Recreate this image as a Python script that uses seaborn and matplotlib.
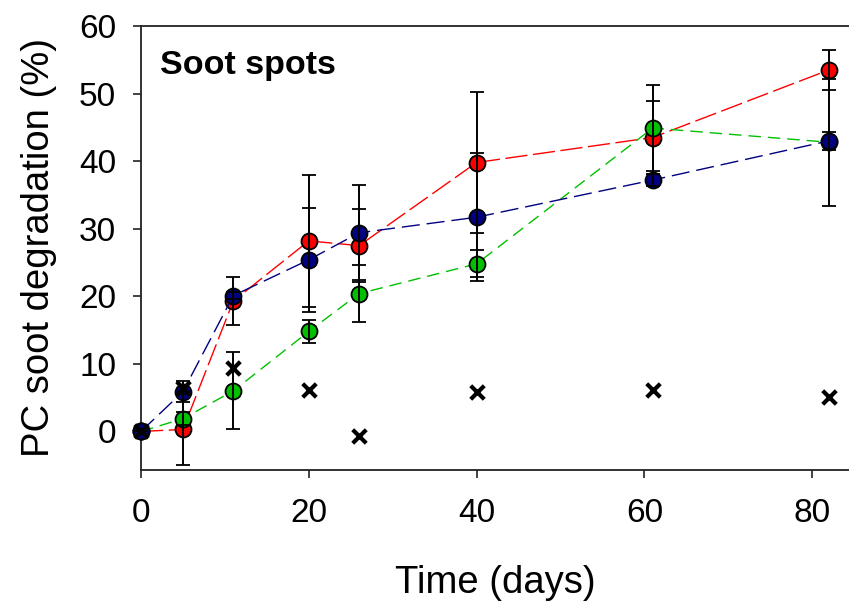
import pandas as pd
import numpy as np
import matplotlib
matplotlib.use('Agg')
import matplotlib.pyplot as plt
import seaborn as sns

# Dane
days = [0, 5, 11, 20, 26, 40, 61, 82]

red_vals = [0, 0.3, 19.3, 28.2, 27.5, 39.8, 43.5, 53.5]
red_err = [0, 5.2, 3.5, 9.8, 5.4, 10.4, 5.4, 2.9]

green_vals = [0, 1.9, 6.0, 14.8, 20.4, 24.8, 44.9, 42.8]
green_err = [0, 1.0, 5.7, 1.7, 4.2, 2.0, 6.3, 9.4]

blue_vals = [0, 5.9, 20.1, 25.4, 29.4, 31.7, 37.2, 43.0]
blue_err = [0, 1.6, 0.5, 7.7, 7.0, 9.5, 0.9, 1.3]

control_vals = [0, 6.4, 9.4, 6.2, -0.6, 5.9, 6.2, 5.1]

series_names = ['red', 'green', 'blue']
colors = {'red': '#ff0000', 'green': '#00c000', 'blue': '#000080'}
dash_styles = {'red': (16, 4), 'green': (9, 5), 'blue': (13, 5)}

df = pd.DataFrame({
    'day': days * 3,
    'deg': red_vals + green_vals + blue_vals,
    'err': red_err + green_err + blue_err,
    'series': ['red'] * 8 + ['green'] * 8 + ['blue'] * 8,
})
df_ctrl = pd.DataFrame({'day': days, 'deg': control_vals})

sns.set_style('ticks')
plt.rcParams['font.family'] = ['Liberation Sans', 'DejaVu Sans']
plt.rcParams['text.color'] = 'black'
plt.rcParams['axes.labelcolor'] = 'black'

fig = plt.figure(figsize=(8.49, 6.02), dpi=100)
ax = fig.add_axes([0.1661, 0.2193, 0.8339, 0.7375])

sns.lineplot(data=df, x='day', y='deg', hue='series', style='series',
             hue_order=series_names, style_order=series_names,
             palette=colors, dashes=dash_styles,
             markers={'red': 'o', 'green': 'o', 'blue': 'o'},
             markersize=11.5, markeredgecolor='black', markeredgewidth=1.3,
             linewidth=1, errorbar=None, sort=False, legend=False,
             clip_on=False, ax=ax, zorder=3)

# słupki błędów na wierzchu
for name in series_names:
    sub = df[df['series'] == name]
    ax.errorbar(sub['day'], sub['deg'], yerr=sub['err'], fmt='none',
                ecolor='black', elinewidth=1.4, capsize=5, capthick=1.3,
                zorder=4, clip_on=False)

sns.scatterplot(data=df_ctrl, x='day', y='deg', marker='x', color='black',
                s=95, linewidth=3, clip_on=False, zorder=6, ax=ax)

ax.set_xlim(0, 84.4)
ax.set_ylim(-5.7, 60)
ax.set_xticks([0, 20, 40, 60, 80])
ax.set_yticks([0, 10, 20, 30, 40, 50, 60])

for side in ['left', 'bottom', 'top']:
    ax.spines[side].set_linewidth(1.3)
    ax.spines[side].set_color('#222222')
ax.spines['right'].set_visible(False)

ax.tick_params(axis='both', direction='out', length=6, width=1.2, labelsize=24,
               colors='#222222', labelcolor='black')
ax.tick_params(axis='y', pad=12)
ax.tick_params(axis='x', pad=14)

ax.set_xlabel('Time (days)', fontsize=27.5, labelpad=26)
ax.set_ylabel('PC soot degradation (%)', fontsize=27.5, labelpad=16)

ax.text(2.3, 52.9, 'Soot spots', fontsize=24.5, fontweight='bold', ha='left', va='baseline')

fig.savefig('out.png', dpi=100)
